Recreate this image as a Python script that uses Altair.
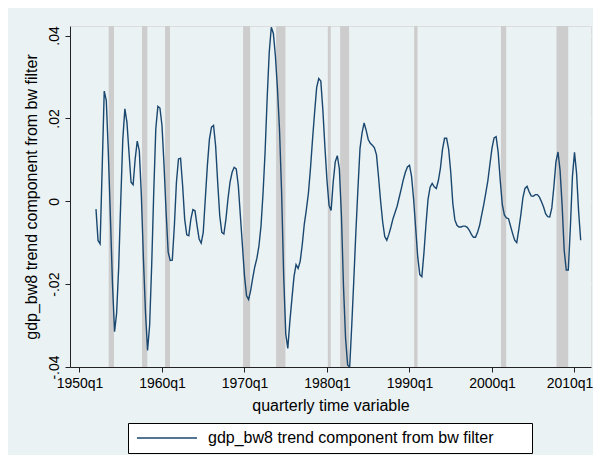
import altair as alt
import pandas as pd

# ---------------- data ----------------
start_year = 1952  # first observation: 1952q1, quarterly
gdp_bw8 = [
    -0.0019, -0.0095, -0.0103, 0.0080, 0.0266, 0.0243, 0.0115, -0.0040, -0.0200, -0.0315,
    -0.0270, -0.0160, 0.0000, 0.0150, 0.0223, 0.0191, 0.0118, 0.0046, 0.0040, 0.0102,
    0.0145, 0.0122, 0.0014, -0.0139, -0.0268, -0.0360, -0.0300, -0.0155, 0.0022, 0.0175,
    0.0229, 0.0225, 0.0183, 0.0086, -0.0027, -0.0123, -0.0143, -0.0142, -0.0059, 0.0046,
    0.0102, 0.0104, 0.0038, -0.0043, -0.0081, -0.0083, -0.0043, -0.0020, -0.0023, -0.0059,
    -0.0091, -0.0101, -0.0075, 0.0006, 0.0086, 0.0150, 0.0179, 0.0183, 0.0134, 0.0046,
    -0.0035, -0.0075, -0.0079, -0.0043, 0.0006, 0.0046, 0.0070, 0.0082, 0.0078, 0.0038,
    -0.0035, -0.0107, -0.0180, -0.0228, -0.0237, -0.0215, -0.0185, -0.0158, -0.0138, -0.0108,
    -0.0060, 0.0020, 0.0120, 0.0250, 0.0360, 0.0420, 0.0405, 0.0350, 0.0270, 0.0170,
    0.0020, -0.0180, -0.0320, -0.0355, -0.0290, -0.0235, -0.0182, -0.0153, -0.0162, -0.0145,
    -0.0105, -0.0055, -0.0020, 0.0020, 0.0080, 0.0150, 0.0215, 0.0275, 0.0296, 0.0290,
    0.0220, 0.0130, 0.0050, -0.0010, -0.0022, 0.0046, 0.0095, 0.0110, 0.0078, -0.0035,
    -0.0206, -0.0330, -0.0395, -0.0400, -0.0300, -0.0190, -0.0074, 0.0030, 0.0127, 0.0165,
    0.0189, 0.0171, 0.0149, 0.0140, 0.0135, 0.0129, 0.0112, 0.0058, 0.0000, -0.0050,
    -0.0085, -0.0094, -0.0080, -0.0062, -0.0042, -0.0027, -0.0012, 0.0009, 0.0030, 0.0052,
    0.0070, 0.0083, 0.0087, 0.0060, 0.0005, -0.0065, -0.0135, -0.0177, -0.0182, -0.0125,
    -0.0055, 0.0005, 0.0034, 0.0043, 0.0035, 0.0031, 0.0050, 0.0080, 0.0125, 0.0152,
    0.0152, 0.0125, 0.0070, -0.0005, -0.0045, -0.0058, -0.0062, -0.0062, -0.0060, -0.0060,
    -0.0063, -0.0070, -0.0080, -0.0087, -0.0087, -0.0075, -0.0058, -0.0033, -0.0008, 0.0020,
    0.0050, 0.0090, 0.0128, 0.0153, 0.0156, 0.0118, 0.0050, -0.0008, -0.0033, -0.0040,
    -0.0042, -0.0060, -0.0078, -0.0094, -0.0100, -0.0068, -0.0032, 0.0009, 0.0031, 0.0036,
    0.0023, 0.0013, 0.0012, 0.0016, 0.0016, 0.0010, -0.0001, -0.0014, -0.0030, -0.0037,
    -0.0038, -0.0016, 0.0035, 0.0095, 0.0119, 0.0075, -0.0010, -0.0118, -0.0166, -0.0166,
    -0.0062, 0.0060, 0.0118, 0.0068, -0.0025, -0.0094,
]

# recession shading (start / end, fractional years)
rec_start = [1953.54, 1957.58, 1960.37, 1969.83, 1973.83, 1980.10, 1981.59, 1990.57, 2001.08, 2007.82]
rec_end = [1954.18, 1958.22, 1960.97, 1970.68, 1974.96, 1980.46, 1982.68, 1990.97, 2001.72, 2009.24]

series_name = "gdp_bw8 trend component from bw filter"
x_ticks = [1950, 1960, 1970, 1980, 1990, 2000, 2010]
y_ticks = [-0.04, -0.02, 0, 0.02, 0.04]
x_domain = [1948.85, 2012.0]
y_domain = [-0.04, 0.0423]

line_df = pd.DataFrame({
    "t": [start_year + i / 4 for i in range(len(gdp_bw8))],
    "v": gdp_bw8,
    "series": series_name,
})
rec_df = pd.DataFrame({"s": rec_start, "e": rec_end})

FONT = "Liberation Sans"
BG = "#EAF2F3"
# trailing no-break spaces (kept by a final zero-width space) widen the legend box
LEGEND_PAD = "\u00a0" * 7 + "\u200b"

xscale = alt.Scale(domain=x_domain, nice=False, zero=False)
yscale = alt.Scale(domain=y_domain, nice=False, zero=False)

xaxis = alt.Axis(
    values=x_ticks,
    labelExpr="floor(datum.value) + 'q1'",
    labelOffset={"condition": {"test": "datum.value >= 2010", "value": -5}, "value": 0},
    grid=False,
    tickSize=5,
    labelPadding=4,
    labelFlush=False,
    domainColor="#222222",
    tickColor="#222222",
    labelColor="black",
    labelFont=FONT,
    labelFontSize=14,
    title="quarterly time variable",
    titleFont=FONT,
    titleFontSize=16,
    titleFontWeight="normal",
    titleColor="black",
    titleY=30,
    titleBaseline="top",
)

yaxis = alt.Axis(
    values=y_ticks,
    labelExpr="datum.value == 0 ? '0' : (datum.value < 0 ? '-' : '') + replace(format(abs(datum.value), '.2f'), '0.', '.')",
    labelAngle=270,
    labelAlign="center",
    labelBaseline="bottom",
    tickSize=5,
    labelPadding=4,
    grid=True,
    gridColor=BG,
    gridWidth=1.5,
    domainColor="#222222",
    tickColor="#222222",
    labelColor="black",
    labelFont=FONT,
    labelFontSize=14,
    title=series_name,
    titleFont=FONT,
    titleFontSize=16,
    titleFontWeight="normal",
    titleColor="black",
    titleAngle=270,
    titleAlign="center",
    titleBaseline="bottom",
    titleX=-31,
)

bars = alt.Chart(rec_df).mark_rect(color="#CDCDCD").encode(
    x=alt.X("s:Q", scale=xscale, axis=xaxis),
    x2="e:Q",
    y=alt.value(0),
    y2=alt.value("height"),
)

line = alt.Chart(line_df).mark_line(strokeWidth=1.4, clip=True).encode(
    x=alt.X("t:Q", scale=xscale, axis=xaxis),
    y=alt.Y("v:Q", scale=yscale, axis=yaxis),
    color=alt.Color(
        "series:N",
        scale=alt.Scale(domain=[series_name], range=["#1A476F"]),
        legend=alt.Legend(
            orient="none",
            legendX=58,
            legendY=397,
            direction="horizontal",
            title=None,
            symbolType="M-1,0H9",
            symbolSize=144,
            symbolStrokeWidth=1.5,
            labelFont=FONT,
            labelFontSize=16,
            labelColor="black",
            labelOffset=57,
            labelLimit=500,
            labelExpr="datum.label + '" + LEGEND_PAD + "'",
            strokeColor="black",
            fillColor="white",
            padding=7,
        ),
    ),
)

chart = (
    alt.layer(bars, line)
    .properties(
        width=521,
        height=341,
        autosize="none",
        padding={"left": 62, "top": 18, "right": 2, "bottom": 88},
        background=BG,
    )
    .configure_view(fill="white", strokeWidth=0)
    .configure(font=FONT)
)

chart.save("out.html", embed_options={"renderer": "svg", "actions": False})
